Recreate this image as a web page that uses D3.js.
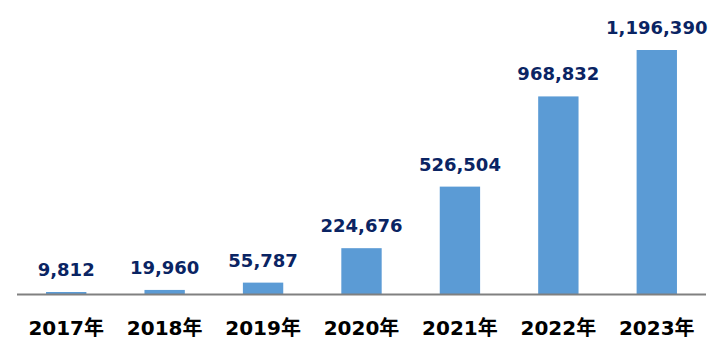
<!DOCTYPE html>
<html><head><meta charset="utf-8">
<script src="https://cdn.jsdelivr.net/npm/d3@7"></script>
<style>html,body{margin:0;padding:0;background:#fff;}</style>
</head><body>
<svg id="chart" width="715" height="357"></svg>
<script>
const categories = ["2017年","2018年","2019年","2020年","2021年","2022年","2023年"];
const values = [9812, 19960, 55787, 224676, 526504, 968832, 1196390];

const svg = d3.select("#chart");
const left = 17, right = 706, base = 294;
const x = d3.scaleBand().domain(categories).range([left, right]).paddingInner(0.59).paddingOuter(0.295);
const y = d3.scaleLinear().domain([0, 1196390]).range([base, 50]);
const fmt = d3.format(",");

svg.selectAll("rect.bar").data(values).enter().append("rect")
  .attr("class","bar")
  .attr("x",(d,i)=>x(categories[i]))
  .attr("width",x.bandwidth())
  .attr("y",d=>y(d))
  .attr("height",d=>base-y(d))
  .attr("fill","#5B9BD5");

svg.append("line").attr("x1",left).attr("x2",right).attr("y1",base+0.5).attr("y2",base+0.5)
  .attr("stroke","#808080").attr("stroke-width",2);

svg.selectAll("text.val").data(values).enter().append("text")
  .attr("class","val")
  .attr("x",(d,i)=>x(categories[i])+x.bandwidth()/2)
  .attr("y",d=>y(d)-16)
  .attr("text-anchor","middle")
  .attr("font-family","'DejaVu Sans', Verdana, sans-serif")
  .attr("font-weight","bold").attr("font-size",18)
  .attr("fill","#0A2463")
  .text(d=>fmt(d));

svg.selectAll("text.cat").data(categories).enter().append("text")
  .attr("class","cat")
  .attr("x",d=>x(d)+x.bandwidth()/2)
  .attr("y",335)
  .attr("text-anchor","middle")
  .attr("font-family","'DejaVu Sans', 'Noto Sans CJK JP', sans-serif")
  .attr("font-weight","bold").attr("font-size",20)
  .attr("fill","#000")
  .text(d=>d);
</script>
</body></html>
